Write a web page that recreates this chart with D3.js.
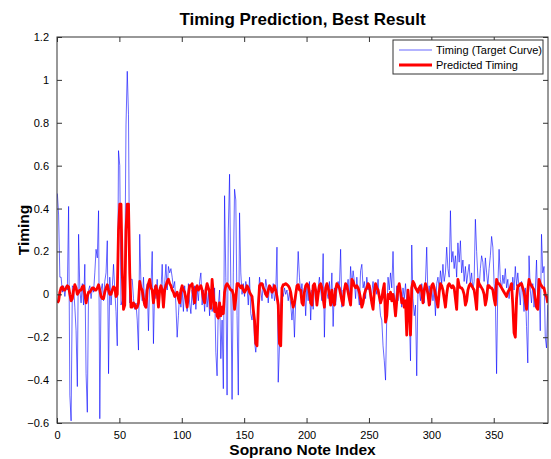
<!DOCTYPE html>
<html>
<head>
<meta charset="utf-8">
<script src="https://cdn.jsdelivr.net/npm/d3@7"></script>
<style>
  body { margin: 0; background: #fff; }
  text { font-family: "Liberation Sans", Arial, Helvetica, sans-serif; }
</style>
</head>
<body>
<svg id="chart" width="551" height="459"></svg>
<script>
// target timing curve (blue), one value per soprano note
var targetTiming = [
  0.47, 0.37, 0.08, 0.08, 0.01, 0.04, -0.01, 0.04, 0.02, 0.41,
  -0.47, -0.59, 0.04, 0.03, -0.06, -0.17, -0.43, 0.28, 0.02, -0.04,
  0.05, -0.05, 0.14, -0.37, -0.55, 0.02, 0.04, -0.02, 0.03, 0.01,
  0.10, 0.21, 0.17, 0.39, -0.58, 0.02, 0.05, -0.03, 0.06, 0.10,
  0.25, -0.37, 0.08, -0.05, 0.03, 0.14, 0.02, -0.08, -0.24, 0.67,
  0.60, -0.05, -0.03, 0.05, 0.05, 0.79, 1.04, 0.84, -0.04, 0.07,
  0.07, -0.02, -0.07, -0.04, -0.12, -0.26, 0.28, 0.05, -0.03, 0.08,
  -0.06, 0.02, 0.05, -0.17, 0.06, 0.03, 0.20, -0.23, 0.04, -0.02,
  0.07, -0.05, 0.03, 0.02, 0.14, -0.04, 0.05, 0.14, 0.02, 0.13,
  0.10, 0.12, 0.08, 0.03, 0.06, -0.05, -0.20, -0.10, 0.01, -0.06,
  0.02, -0.08, 0.04, -0.02, -0.08, 0.05, -0.04, -0.09, 0.02, -0.05,
  0.04, -0.07, 0.03, -0.03, 0.06, 0.10, -0.05, 0.02, -0.08, 0.03,
  -0.06, 0.01, -0.10, 0.02, -0.08, -0.05, 0.03, -0.27, -0.38, -0.05,
  0.02, -0.30, -0.12, -0.44, 0.46, 0.08, -0.47, 0.30, 0.56, 0.05,
  -0.49, 0.10, 0.49, 0.44, -0.10, -0.47, 0.38, 0.10, 0.00, 0.05,
  -0.01, 0.06, 0.03, -0.05, 0.08, -0.09, -0.12, -0.05, -0.22, -0.27,
  -0.20, -0.02, 0.08, 0.02, -0.03, 0.05, 0.00, 0.07, 0.03, -0.04,
  0.04, 0.02, -0.02, 0.05, -0.03, 0.01, 0.22, -0.41, -0.24, -0.05,
  0.02, -0.01, 0.03, 0.00, 0.02, -0.03, 0.01, -0.05, -0.12, -0.04,
  -0.20, -0.03, 0.05, 0.20, 0.08, 0.00, 0.05, -0.02, 0.03, -0.10,
  0.04, -0.03, 0.06, -0.12, 0.02, -0.07, 0.03, 0.01, -0.05, 0.03,
  0.08, 0.02, -0.03, 0.19, -0.20, 0.04, 0.01, -0.02, 0.06, -0.04,
  0.10, -0.15, 0.03, -0.05, 0.02, 0.06, 0.03, 0.21, -0.06, 0.02,
  -0.01, 0.05, 0.02, 0.07, -0.03, 0.13, 0.04, 0.11, 0.06, -0.02,
  0.08, 0.00, -0.05, 0.11, 0.14, 0.03, 0.06, -0.02, 0.08, 0.02,
  0.05, -0.03, 0.01, 0.06, -0.02, 0.04, 0.00, 0.07, -0.03, -0.10,
  -0.12, -0.24, -0.31, -0.40, -0.10, 0.08, 0.02, 0.10, 0.03, 0.20,
  0.00, -0.05, 0.04, -0.03, 0.05, 0.01, -0.06, 0.03, -0.02, 0.05,
  -0.04, 0.02, -0.08, -0.31, 0.23, -0.02, -0.10, -0.05, -0.38, 0.03,
  0.02, -0.03, 0.05, 0.01, -0.04, 0.06, 0.22, -0.02, 0.04, -0.05,
  0.03, -0.03, 0.02, -0.10, 0.05, 0.08, 0.02, 0.11, 0.05, 0.14,
  0.06, 0.10, 0.22, 0.12, 0.08, 0.39, 0.15, 0.20, 0.12, 0.18,
  0.08, 0.24, 0.15, 0.25, 0.10, 0.16, 0.06, 0.13, 0.05, 0.10,
  0.14, 0.05, 0.10, 0.02, 0.06, 0.35, 0.20, 0.08, 0.03, 0.12,
  0.18, 0.15, 0.06, 0.17, 0.10, 0.04, 0.12, 0.18, 0.27, 0.22,
  0.05, -0.02, -0.37, 0.04, 0.21, 0.07, 0.02, 0.09, 0.05, 0.12,
  0.03, 0.07, -0.02, 0.05, 0.01, 0.08, 0.02, 0.13, 0.04, 0.10,
  0.03, -0.05, 0.06, 0.01, -0.08, 0.03, -0.15, -0.32, 0.18, 0.02,
  -0.04, 0.05, -0.06, 0.01, 0.16, -0.05, 0.05, -0.17, 0.28, 0.10,
  0.13, -0.20, -0.25, -0.05
];

// predicted timing (red)
var predictedTiming = [
  -0.04, -0.03, 0.01, 0.03, 0.035, 0.02, 0.02, 0.03, 0.04, 0.035,
  0.00, -0.03, -0.02, 0.02, 0.045, 0.03, 0.00, 0.01, 0.02, 0.02,
  0.035, 0.04, 0.00, -0.04, -0.01, 0.01, 0.01, 0.02, 0.03, 0.03,
  0.02, 0.02, 0.03, 0.045, 0.02, -0.01, -0.02, -0.02, 0.01, 0.03,
  0.045, 0.02, 0.00, 0.00, 0.02, 0.035, 0.03, -0.01, 0.00, 0.30,
  0.42, 0.42, 0.10, -0.07, -0.05, 0.30, 0.42, 0.42, 0.10, -0.06,
  -0.06, -0.04, -0.05, -0.065, -0.06, -0.04, 0.06, 0.03, 0.02, -0.02,
  -0.05, -0.06, 0.02, 0.05, 0.07, 0.03, 0.02, -0.04, 0.01, 0.04,
  0.01, -0.06, 0.02, 0.04, 0.02, -0.06, 0.02, 0.04, 0.06, 0.07,
  0.05, 0.04, 0.02, 0.01, -0.01, 0.00, 0.01, -0.02, -0.04, 0.02,
  0.04, 0.02, 0.01, -0.02, -0.06, 0.00, 0.04, 0.04, 0.05, 0.00,
  -0.04, 0.03, 0.04, 0.02, 0.03, 0.04, 0.02, -0.02, -0.04, 0.02,
  0.05, 0.03, 0.01, -0.065, 0.07, 0.00, -0.08, -0.04, -0.10, -0.11,
  -0.04, -0.10, -0.06, -0.09, 0.01, 0.04, 0.05, 0.04, 0.03, 0.02,
  0.02, 0.00, -0.07, -0.02, 0.05, 0.05, 0.04, 0.03, 0.04, 0.02,
  0.01, 0.02, 0.04, 0.03, 0.01, 0.00, -0.01, -0.07, -0.12, -0.23,
  -0.24, -0.06, 0.04, 0.05, 0.05, 0.03, 0.02, 0.00, -0.01, 0.02,
  0.04, 0.03, 0.01, 0.02, 0.04, 0.02, -0.01, -0.05, -0.23, -0.24,
  0.03, 0.045, 0.045, 0.05, 0.045, 0.04, 0.03, 0.01, -0.03, -0.06,
  -0.04, 0.00, 0.04, 0.045, 0.02, 0.02, -0.04, -0.05, 0.01, 0.04,
  0.05, 0.04, 0.01, -0.04, -0.05, 0.04, 0.05, 0.02, -0.05, 0.00,
  0.04, 0.05, 0.03, -0.02, -0.06, 0.03, 0.05, 0.03, 0.00, -0.05,
  0.02, -0.03, -0.05, 0.02, 0.05, 0.04, 0.03, 0.00, -0.03, -0.05,
  0.02, 0.05, 0.04, 0.01, -0.02, -0.05, 0.07, 0.06, 0.04, 0.03,
  0.04, 0.03, 0.01, -0.02, -0.06, -0.04, 0.00, 0.02, 0.03, 0.05,
  0.04, 0.00, -0.04, -0.07, 0.01, 0.05, 0.03, 0.02, -0.01, -0.04,
  -0.02, 0.02, 0.05, -0.13, -0.10, 0.00, -0.02, 0.01, -0.03, 0.00,
  -0.04, -0.10, -0.03, 0.03, 0.05, 0.01, -0.04, -0.02, -0.06, -0.03,
  -0.19, 0.02, -0.05, -0.19, 0.03, 0.06, 0.05, 0.03, 0.02, 0.01,
  0.03, 0.04, 0.01, -0.04, 0.02, 0.05, 0.03, 0.00, -0.05, 0.00,
  0.04, 0.05, 0.03, 0.00, -0.03, -0.06, 0.01, 0.05, 0.04, 0.02,
  -0.02, -0.06, 0.00, 0.04, 0.05, 0.04, 0.03, 0.04, 0.03, -0.02,
  -0.07, 0.07, 0.04, 0.03, 0.03, 0.02, 0.00, -0.05, -0.03, 0.02,
  0.04, 0.05, 0.04, 0.03, 0.02, -0.02, -0.07, 0.07, 0.05, 0.04,
  0.03, 0.02, 0.00, -0.05, -0.02, 0.04, 0.04, 0.03, 0.03, 0.02,
  -0.02, -0.05, 0.07, 0.05, 0.05, 0.04, 0.03, 0.02, 0.01, 0.00,
  -0.01, 0.01, 0.02, 0.03, 0.05, -0.05, -0.18, -0.20, -0.02, 0.04,
  0.04, 0.05, 0.05, 0.03, 0.01, -0.03, -0.07, 0.02, 0.07, 0.05,
  0.04, 0.03, 0.02, -0.02, -0.06, -0.07, 0.07, 0.05, 0.04, 0.03,
  0.03, 0.00, -0.01, -0.04
];

var xTicks = [0, 50, 100, 150, 200, 250, 300, 350];
var yTicks = [-0.6, -0.4, -0.2, 0, 0.2, 0.4, 0.6, 0.8, 1, 1.2];
var seriesNames = ["Timing (Target Curve)", "Predicted Timing"];
var seriesColors = ["#0000ff", "#ff0000"];

var W = 551, H = 459;
var margin = {top: 37, right: 3, bottom: 36, left: 57};
var iw = W - margin.left - margin.right;
var ih = H - margin.top - margin.bottom;

var svg = d3.select("#chart");
var g = svg.append("g").attr("transform", "translate(" + margin.left + "," + margin.top + ")");

var x = d3.scaleLinear().domain([0, 393.5]).range([0, iw]);
var y = d3.scaleLinear().domain([-0.6, 1.2]).range([ih, 0]);

g.append("clipPath").attr("id", "plotclip")
  .append("rect").attr("width", iw).attr("height", ih);

var line = d3.line()
  .x(function(d, i) { return x(i + 0.3); })
  .y(function(d) { return y(d); });

var plot = g.append("g").attr("clip-path", "url(#plotclip)");

plot.append("path")
  .datum(targetTiming)
  .attr("fill", "none")
  .attr("stroke", seriesColors[0])
  .attr("stroke-width", 0.6)
  .attr("d", line);

plot.append("path")
  .datum(predictedTiming)
  .attr("fill", "none")
  .attr("stroke", seriesColors[1])
  .attr("stroke-width", 2.8)
  .attr("stroke-linejoin", "round")
  .attr("d", line);

// axes: ticks inward on all four sides, MATLAB box style
function styleAxis(sel) {
  sel.select(".domain").remove();
  sel.selectAll(".tick line").attr("stroke", "#333");
  sel.selectAll(".tick text").attr("fill", "#000").style("font-size", "11px");
}

g.append("g").attr("transform", "translate(0," + ih + ")")
  .call(d3.axisBottom(x).tickValues(xTicks).tickSizeInner(-5).tickSizeOuter(0).tickPadding(8))
  .call(styleAxis);
g.append("g")
  .call(d3.axisTop(x).tickValues(xTicks).tickSizeInner(-5).tickSizeOuter(0).tickFormat(""))
  .call(styleAxis);
g.append("g")
  .call(d3.axisLeft(y).tickValues(yTicks).tickSizeInner(-5).tickSizeOuter(0).tickPadding(8)
    .tickFormat(function(d) { return d3.format("")(+d.toFixed(1)); }))
  .call(styleAxis);
g.append("g").attr("transform", "translate(" + iw + ",0)")
  .call(d3.axisRight(y).tickValues(yTicks).tickSizeInner(-5).tickSizeOuter(0).tickFormat(""))
  .call(styleAxis);

g.append("rect")
  .attr("width", iw).attr("height", ih)
  .attr("fill", "none").attr("stroke", "#333").attr("stroke-width", 1);

// title and labels
svg.append("text")
  .attr("x", margin.left + iw / 2).attr("y", 25)
  .attr("text-anchor", "middle")
  .style("font-size", "17px").style("font-weight", "bold")
  .text("Timing Prediction, Best Result");

svg.append("text")
  .attr("x", margin.left + iw / 2).attr("y", 455)
  .attr("text-anchor", "middle")
  .style("font-size", "15.5px").style("font-weight", "bold")
  .text("Soprano Note Index");

svg.append("text")
  .attr("transform", "translate(29," + (margin.top + ih / 2) + ") rotate(-90)")
  .attr("text-anchor", "middle")
  .style("font-size", "15.5px").style("font-weight", "bold")
  .text("Timing");

// legend
var lg = svg.append("g").attr("transform", "translate(393,40)");
lg.append("rect").attr("width", 150).attr("height", 34)
  .attr("fill", "#fff").attr("stroke", "#333").attr("stroke-width", 1);
seriesNames.forEach(function(name, k) {
  var yy = 10 + k * 15;
  lg.append("line").attr("x1", 6).attr("x2", 39).attr("y1", yy).attr("y2", yy)
    .attr("stroke", seriesColors[k]).attr("stroke-width", k === 0 ? 0.6 : 2.8);
  lg.append("text").attr("x", 43).attr("y", yy + 4)
    .style("font-size", "11px").text(name);
});
</script>
</body>
</html>
